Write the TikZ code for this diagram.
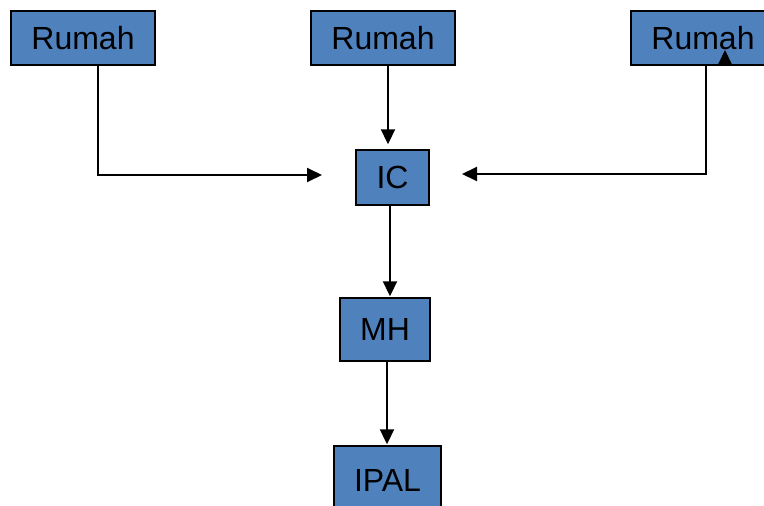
\documentclass[tikz,border=0pt]{standalone}
\usepackage{fontspec}
\setmainfont{Liberation Sans}
\usepackage{xcolor}
\usetikzlibrary{arrows.meta, positioning, calc}
\definecolor{blockblue}{HTML}{4F81BD}

\begin{document}
\begin{tikzpicture}[x=1pt, y=-1pt, every node/.style={font=\fontsize{32}{37}\selectfont},
  box/.style={draw, rectangle, fill=blockblue, line width=1.4pt, inner sep=0pt},
  flow/.style={-{Triangle[length=15pt, width=14pt]}, line width=2pt}]
\useasboundingbox (0,0) rectangle (764,506);

\node (rumahA) [box, minimum width=144pt, minimum height=54pt] at (83,38) {Rumah};
\node (rumahB) [box, minimum width=144pt, minimum height=54pt] at (383,38) {Rumah};
\node (rumahC) [box, minimum width=144pt, minimum height=54pt] at (703,38) {Rumah};
\node (ic) [box, minimum width=73pt, minimum height=55pt] at (392.5,177.5) {IC};
\node (mh) [box, minimum width=90pt, minimum height=63pt] at (385,329.5) {MH};
\node (ipal) [box, minimum width=107pt, minimum height=68pt] at (387.5,480) {IPAL};

\coordinate (leftend) at (322,175);
\coordinate (rightend) at (462,174);
\coordinate (stubtip) at (725,50);
\coordinate (stubbase) at (725,65);

\draw[flow] ($(rumahA.south)+(15,0)$) |- (leftend);
\draw[flow] ($(rumahB.south)+(5,0)$) -- ($(ic.north)+(-4.5,-5)$);
\draw[flow] ($(rumahC.south)+(3,0)$) |- (rightend);
\draw[flow] ($(ic.south)+(-2.5,0)$) -- ($(mh.north)+(5,-1)$);
\draw[flow] ($(mh.south)+(2,0)$) -- ($(ipal.north)+(-0.5,-1)$);
\draw[flow] (stubbase) -- (stubtip);
\end{tikzpicture}
\end{document}
